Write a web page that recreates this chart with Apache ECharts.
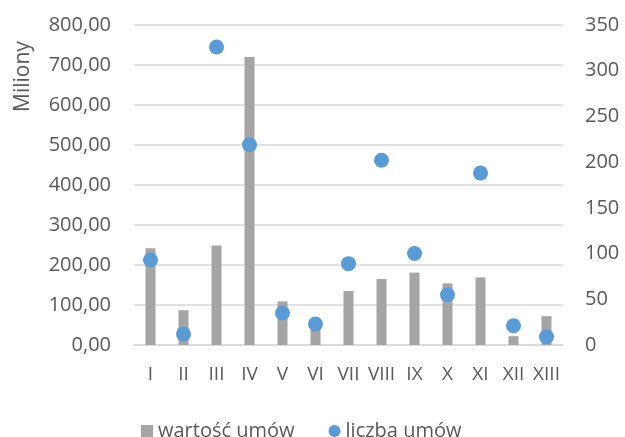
<!DOCTYPE html>
<html>
<head>
<meta charset="utf-8">
<script src="https://cdn.jsdelivr.net/npm/echarts@6/dist/echarts.min.js"></script>
<style>
html, body { margin: 0; padding: 0; background: #fff; }
#chart { width: 625px; height: 437px; }
</style>
</head>
<body>
<div id="chart"></div>
<script>
// miesiące / okresy
let categories = ['I', 'II', 'III', 'IV', 'V', 'VI', 'VII', 'VIII', 'IX', 'X', 'XI', 'XII', 'XIII'];
// wartość umów (miliony)
let wartoscUmow = [242, 87, 249, 720, 109, 45, 135, 165, 181, 154, 169, 22, 72];
// liczba umów
let liczbaUmow = [93, 12, 326, 219, 35, 23, 89, 202, 100, 55, 188, 21, 9];

let font = '"Open Sans", sans-serif';
let textColor = '#595959';

let chart = echarts.init(document.getElementById('chart'));
let option = {
    animation: false,
    textStyle: { fontFamily: font },
    grid: { left: 134, right: 62, top: 25, bottom: 92, containLabel: false },
    graphic: [{
        type: 'text',
        x: 13, y: 112,
        rotation: Math.PI / 2,
        style: { text: 'Miliony', fill: textColor, font: '21px "Open Sans"' }
    }],
    legend: {
        top: 416,
        left: 136,
        itemWidth: 12,
        itemHeight: 12,
        itemGap: 34,
        textStyle: { color: textColor, fontSize: 20, fontFamily: font },
        data: [
            { name: 'wartość umów', icon: 'rect' },
            { name: 'liczba umów', icon: 'circle' }
        ]
    },
    xAxis: {
        type: 'category',
        data: categories,
        axisLine: { lineStyle: { color: '#d9d9d9', width: 1.5 } },
        axisTick: { show: false },
        axisLabel: { color: textColor, fontSize: 19, fontFamily: font, margin: 20, interval: 0 }
    },
    yAxis: [
        {
            type: 'value',
            min: 0, max: 800, interval: 100,
            axisLine: { show: false },
            axisTick: { show: false },
            splitLine: { lineStyle: { color: '#d9d9d9', width: 1.5 } },
            axisLabel: {
                color: textColor, fontSize: 20, fontFamily: font, margin: 23,
                formatter: function (v) { return v.toFixed(2).replace('.', ','); }
            }
        },
        {
            type: 'value',
            min: 0, max: 350, interval: 50,
            axisLine: { show: false },
            axisTick: { show: false },
            splitLine: { show: false },
            axisLabel: { color: textColor, fontSize: 20, fontFamily: font, margin: 22 }
        }
    ],
    series: [
        {
            name: 'wartość umów',
            type: 'bar',
            barWidth: 10,
            itemStyle: { color: '#a5a5a5' },
            data: wartoscUmow
        },
        {
            name: 'liczba umów',
            type: 'scatter',
            yAxisIndex: 1,
            symbolSize: 15,
            itemStyle: { color: '#5b9bd5', opacity: 1 },
            data: liczbaUmow
        }
    ]
};
chart.setOption(option);
</script>
</body>
</html>
